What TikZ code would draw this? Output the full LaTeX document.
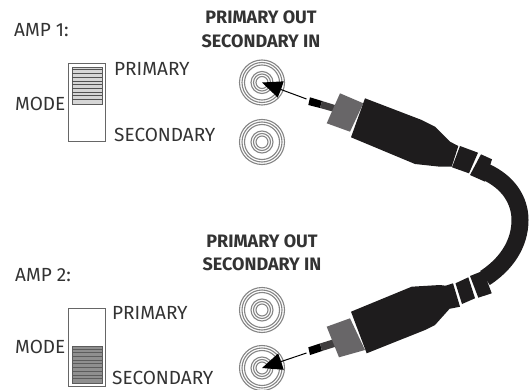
\documentclass[tikz,border=0pt]{standalone}
\usepackage{fontspec}
\setmainfont{Fira Sans}[FontFace={m}{n}{Font=Fira Sans Medium}]
\usetikzlibrary{arrows.meta}
\definecolor{ink}{HTML}{333333}
\definecolor{plugblack}{HTML}{1E1C1D}
\definecolor{collar}{HTML}{686668}
\definecolor{pin}{HTML}{555355}
\tikzset{
  x=1pt,y=-1pt,
  lbl/.style={inner sep=0pt,text=ink,font=\fontsize{19}{22}\selectfont,anchor=west},
  head/.style={inner sep=0pt,text=ink,font=\fontsize{18}{22}\selectfont\bfseries},
  swbox/.style={draw=ink!75,line width=1pt},
  hatch/.style={line width=1pt,draw=ink!85},
  hatchbox/.style={draw=ink!80,line width=.8pt,fill=ink!20},
  ring/.style={draw=ink!60,line width=1.1pt,fill=none},
  blackpart/.style={fill=plugblack,draw=none},
  jack/.style={circle,inner sep=0pt,minimum size=46pt},
  pointer/.style={draw=black,line width=1pt,-{Triangle[length=20pt,width=17pt]}},
}
\newcommand{\jackrings}[1]{%
  \foreach \r in {22.5,20,17.5,11,8.5,6}{\draw[ring] (#1) circle[radius=\r];}
}
\begin{document}
\begin{tikzpicture}
\useasboundingbox (0,0) rectangle (529,390);
\fill[white] (0,0) rectangle (529,390);

% texts
\node[lbl] (amp1) at (14,30) {AMP 1:};
\node[lbl] (mode1) at (15,104) {MODE};
\node[lbl] (pri1) at (114,69) {PRIMARY};
\node[lbl] (sec1) at (114,135) {SECONDARY};
\node[head] (h1a) at (261,17) {PRIMARY OUT};
\node[head] (h1b) at (261,41) {SECONDARY IN};
\node[lbl] (amp2) at (15,275) {AMP 2:};
\node[lbl] (mode2) at (15,347) {MODE};
\node[lbl] (pri2) at (112,313) {PRIMARY};
\node[lbl] (sec2) at (112,378) {SECONDARY};
\node[head] (h2a) at (262,241) {PRIMARY OUT};
\node[head] (h2b) at (262,264) {SECONDARY IN};

% switches
\draw[swbox] (68,64) rectangle (105,142);
\draw[hatchbox] (72,67) rectangle (102,104);
\foreach \y in {70,73.7,...,103}{\draw[hatch] (72,\y) -- (102,\y);}
\draw[swbox] (68.5,308) rectangle (105,386);
\draw[hatchbox,fill=ink!55] (72,346) rectangle (102,383);
\foreach \y in {349,352.7,...,381}{\draw[hatch,draw=ink!80,line width=.7pt] (72,\y) -- (102,\y);}

% jacks
\node[jack] (j1) at (262,82.5) {};
\node[jack] (j2) at (262,142) {};
\node[jack] (j3) at (262,310) {};
\node[jack] (j4) at (262,368) {};
\jackrings{j1}\jackrings{j2}\jackrings{j3}\jackrings{j4}

% cable
\draw[plugblack,line width=17pt] (486,172) .. controls (508,182) and (520,200) .. (520,220) .. controls (520,245) and (505,265) .. (485,278);

% plug 1
\coordinate (p1tail) at (306.5,99);
\fill[pin] (310,97.3) -- (322,101) -- (320,108) -- (308.3,105) -- cycle;
\fill[plugblack!85] (322,101) -- (335,105) -- (333.3,111.7) -- (320,108) -- cycle;
\fill[collar] (340,93.3) -- (363.3,103.3) -- (350,131.7) -- (326.7,123.3) -- cycle;
\fill[blackpart] (365,98.3) -- (421.7,120) -- (435,126.7) -- (450,141.7) -- (458.3,146) -- (451.7,166.7) -- (440,166.7) -- (415,164) -- (351,137.3) -- cycle;
\fill[blackpart] (460,146) -- (478,152.7) -- (469,173.3) -- (452,167.3) -- cycle;
\fill[blackpart] (481,154.3) -- (492,159.3) -- (485,181.7) -- (470,175) -- cycle;
\draw[pointer] (p1tail) -- (j1.center);

% plug 2
\coordinate (p2tail) at (306.5,353);
\fill[pin] (308.3,347.3) -- (320,343.5) -- (322,351) -- (310,355) -- cycle;
\fill[plugblack!85] (320,343.5) -- (333.3,339.3) -- (335.7,346.7) -- (322,351) -- cycle;
\fill[collar] (326.7,326.7) -- (350,318.3) -- (365,350) -- (339,357.3) -- cycle;
\fill[blackpart] (351,311.7) -- (411.7,286.7) -- (440,285) -- (453,286.7) -- (450,308.3) -- (435,325) -- (425,330) -- (366.7,353.3) -- cycle;
\fill[blackpart] (445,286) -- (453,283.3) -- (460,306.7) -- (450,308.7) -- cycle;
\fill[blackpart] (455.5,283.3) -- (468.3,277.3) -- (475,298.3) -- (462,304) -- cycle;
\fill[blackpart] (470,276) -- (483.3,270.7) -- (491.7,293.3) -- (478.3,297.7) -- cycle;
\draw[pointer] (p2tail) -- (j4.center);
\end{tikzpicture}
\end{document}
